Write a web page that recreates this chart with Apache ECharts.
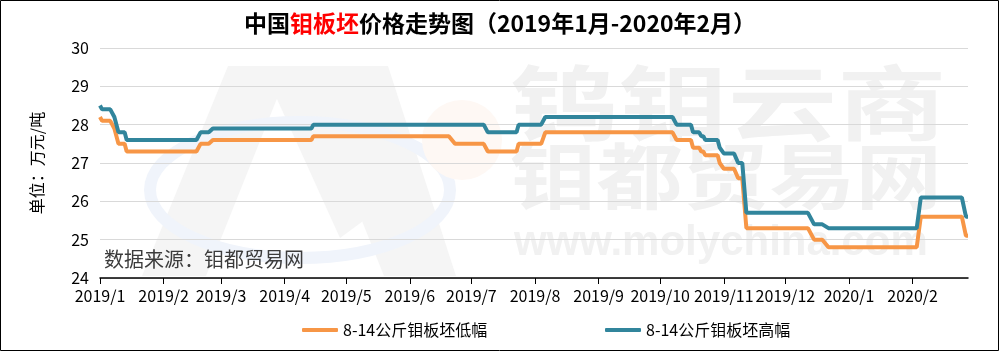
<!DOCTYPE html>
<html>
<head>
<meta charset="utf-8">
<script src="https://cdn.jsdelivr.net/npm/echarts@6/dist/echarts.min.js"></script>
<style>
html,body{margin:0;padding:0;background:#fff;}
#chart{width:1000px;height:352px;}
</style>
</head>
<body>
<div id="chart"></div>
<script>
// ---------- data ----------
const seriesNames = ['8-14公斤钼板坯低幅', '8-14公斤钼板坯高幅'];
const tickLabels = ['2019/1','2019/2','2019/3','2019/4','2019/5','2019/6','2019/7','2019/8','2019/9','2019/10','2019/11','2019/12','2020/1','2020/2'];
const yTicks = [24, 25, 26, 27, 28, 29, 30];

const lowDates = ['2019-01-01','2019-01-02','2019-01-06','2019-01-08','2019-01-10','2019-01-13','2019-01-14',
  '2019-02-17','2019-02-19','2019-02-23','2019-02-25','2019-04-14','2019-04-15','2019-06-20','2019-06-23',
  '2019-07-07','2019-07-09','2019-07-23','2019-07-24','2019-08-04','2019-08-06','2019-10-07','2019-10-09',
  '2019-10-16','2019-10-17','2019-10-20','2019-10-21','2019-10-22','2019-10-23','2019-10-29','2019-10-30',
  '2019-11-01','2019-11-06','2019-11-08','2019-11-10','2019-11-12','2019-12-12','2019-12-15','2019-12-19',
  '2019-12-22','2020-02-03','2020-02-05','2020-02-25','2020-02-27','2020-02-28'];
const lowValues = [28.2,28.1,28.1,27.9,27.5,27.5,27.3,
  27.3,27.5,27.5,27.6,27.6,27.7,27.7,27.5,
  27.5,27.3,27.3,27.5,27.5,27.8,27.8,27.6,
  27.6,27.4,27.4,27.3,27.3,27.2,27.2,27.0,
  26.85,26.85,26.6,26.6,25.3,25.3,25.0,25.0,
  24.8,24.8,25.6,25.6,25.1,25.1];

const highDates = ['2019-01-01','2019-01-02','2019-01-06','2019-01-08','2019-01-10','2019-01-13','2019-01-14',
  '2019-02-17','2019-02-19','2019-02-23','2019-02-25','2019-04-14','2019-04-15',
  '2019-07-07','2019-07-09','2019-07-23','2019-07-24','2019-08-04','2019-08-06','2019-10-07','2019-10-09',
  '2019-10-16','2019-10-17','2019-10-20','2019-10-21','2019-10-22','2019-10-23','2019-10-29','2019-10-30',
  '2019-11-01','2019-11-06','2019-11-08','2019-11-10','2019-11-12','2019-12-12','2019-12-15','2019-12-19',
  '2019-12-22','2020-02-03','2020-02-05','2020-02-25','2020-02-27','2020-02-28'];
const highValues = [28.5,28.4,28.4,28.2,27.8,27.8,27.6,
  27.6,27.8,27.8,27.9,27.9,28.0,
  28.0,27.8,27.8,28.0,28.0,28.2,28.2,28.0,
  28.0,27.8,27.8,27.7,27.7,27.6,27.6,27.4,
  27.25,27.25,27.0,27.0,25.7,25.7,25.4,25.4,
  25.3,25.3,26.1,26.1,25.6,25.6];

const xMinDate = '2019-01-01';
const xMaxDate = '2020-02-28';
// ---------------------------

function labelToTime(l){ const p = l.split('/'); return Date.UTC(+p[0], +p[1]-1, 1); }
function dateToTime(s){ const p = s.split('-'); return Date.UTC(+p[0], +p[1]-1, +p[2]); }
const tickTimes = tickLabels.map(labelToTime);

const CJK = '"Noto Sans CJK SC", "Noto Sans", sans-serif';
const chart = echarts.init(document.getElementById('chart'), null, {renderer:'canvas'});

chart.setOption({
  animation: false,
  backgroundColor: '#fff',
  textStyle: { fontFamily: CJK },
  title: {
    text: '{a|中国}{r|钼板坯}{a|价格走势图（2019年1月-2020年2月）}',
    left: 'center', top: 7,
    textStyle: {
      rich: {
        a: { fontSize: 23, fontWeight: 'bold', color: '#000', fontFamily: CJK },
        r: { fontSize: 23, fontWeight: 'bold', color: '#ff0000', fontFamily: CJK }
      }
    }
  },
  grid: { left: 100, right: 32, top: 48, bottom: 74, containLabel: false },
  legend: [
    { data: [seriesNames[0]], left: 297, top: 317, icon: 'roundRect', itemWidth: 36, itemHeight: 4,
      textStyle: { fontSize: 16, color: '#000', fontFamily: CJK } },
    { data: [seriesNames[1]], left: 600, top: 317, icon: 'roundRect', itemWidth: 36, itemHeight: 4,
      textStyle: { fontSize: 16, color: '#000', fontFamily: CJK } }
  ],
  xAxis: {
    type: 'value',
    min: dateToTime(xMinDate),
    max: dateToTime(xMaxDate),
    axisLine: { show: true, lineStyle: { color: '#000', width: 1.5 } },
    axisTick: { show: true, length: 6, lineStyle: { color: '#000' }, customValues: tickTimes },
    axisLabel: {
      customValues: tickTimes,
      margin: 10,
      fontSize: 16, color: '#000', fontFamily: CJK,
      formatter: function (v) {
        const i = tickTimes.indexOf(v);
        return i >= 0 ? tickLabels[i] : '';
      }
    },
    splitLine: { show: false }
  },
  yAxis: {
    type: 'value',
    min: yTicks[0], max: yTicks[yTicks.length-1], interval: 1,
    name: '单位：万元/吨',
    nameLocation: 'middle', nameRotate: 90, nameGap: 55,
    nameTextStyle: { fontSize: 16, color: '#000', fontFamily: CJK },
    axisLine: { show: false },
    axisTick: { show: false },
    axisLabel: { fontSize: 16, color: '#000', margin: 11, fontFamily: CJK },
    splitLine: { lineStyle: { color: '#d9d9d9', width: 1 } }
  },
  graphic: [
    { type: 'polygon', z: -10, silent: true,
      shape: { points: [[142,276],[206,276],[290,66],[228,66]] }, style: { fill: '#f5f5f5' } },
    { type: 'polygon', z: -10, silent: true,
      shape: { points: [[262,66],[322,66],[378,210],[340,238]] }, style: { fill: '#f5f5f5' } },
    { type: 'polygon', z: -10, silent: true,
      shape: { points: [[300,66],[388,66],[456,276],[384,276]] }, style: { fill: '#f5f5f5' } },
    { type: 'ellipse', z: -9, silent: true,
      shape: { cx: 300, cy: 190, rx: 150, ry: 68 }, style: { fill: 'none', stroke: '#f0f4fb', lineWidth: 12 } },
    { type: 'circle', z: -9, silent: true,
      shape: { cx: 462, cy: 140, r: 40 }, style: { fill: '#fef8f4' } },
    { type: 'text', z: -10, silent: true, left: 510, top: 62, scaleX: 1.33,
      style: { text: '钨钼云商', font: 'bold 82px "Noto Sans CJK SC"', fill: '#f1f1f1' } },
    { type: 'text', z: -10, silent: true, left: 510, top: 140, scaleX: 1.2,
      style: { text: '钼都贸易网', font: 'bold 72px "Noto Sans CJK SC"', fill: '#f1f1f1' } },
    { type: 'text', z: -10, silent: true, left: 514, top: 222,
      style: { text: 'www.molychina.com', font: 'bold 42px "Liberation Sans"', fill: '#f1f1f1' } },
    { type: 'text', z: 5, left: 104, top: 249,
      style: { text: '数据来源：钼都贸易网', font: '20px "Noto Sans CJK SC"', fill: '#3c3c3c' } },
    { type: 'rect', z: 10, silent: true,
      shape: { x: 0.5, y: 0.5, width: 998, height: 350 }, style: { fill: 'none', stroke: '#000', lineWidth: 1 } }
  ],
  series: [
    { name: seriesNames[0], type: 'line', showSymbol: false, symbol: 'none',
      data: lowDates.map((d, i) => [dateToTime(d), lowValues[i]]),
      lineStyle: { color: '#F79646', width: 4 }, itemStyle: { color: '#F79646' }, z: 3 },
    { name: seriesNames[1], type: 'line', showSymbol: false, symbol: 'none',
      data: highDates.map((d, i) => [dateToTime(d), highValues[i]]),
      lineStyle: { color: '#31859C', width: 4 }, itemStyle: { color: '#31859C' }, z: 4 }
  ]
});
</script>
</body>
</html>
